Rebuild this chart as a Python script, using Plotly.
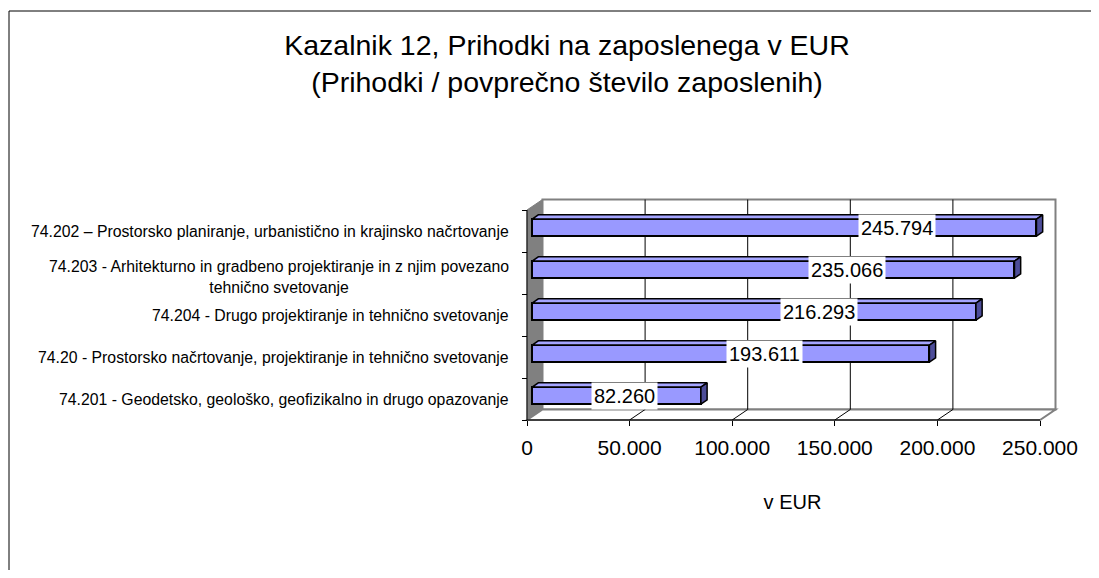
import plotly.graph_objects as go

# ---------------- data ----------------
categories = [
    "74.202 – Prostorsko planiranje, urbanistično in krajinsko načrtovanje",
    "74.203 - Arhitekturno in gradbeno projektiranje in z njim povezano<br>tehnično svetovanje",
    "74.204 - Drugo projektiranje in tehnično svetovanje",
    "74.20 - Prostorsko načrtovanje, projektiranje in tehnično svetovanje",
    "74.201 - Geodetsko, geološko, geofizikalno in drugo opazovanje",
]
values = [245794, 235066, 216293, 193611, 82260]
x_ticks = [0, 50000, 100000, 150000, 200000, 250000]
title_lines = ["Kazalnik 12, Prihodki na zaposlenega v EUR",
               "(Prihodki / povprečno število zaposlenih)"]
x_title = "v EUR"

# where Excel placed the value labels (x, in axis units)
label_x = [180300, 155900, 142300, 115500, 47300]

# ---------------- geometry / style (page pixel coords) ----------------
OFF = 8                      # body margin of the html page
W, H = 1099 - 2 * OFF, 578 - 2 * OFF
L_PX, R_PX, T_PX, B_PX = 523, 1062, 196, 422
X0_PX = 527                  # page pixel of x = 0 on the front axis
PX_PER_X = 102.6 / 50000
FRONT_BOTTOM_PX = 420        # page pixel of y = -0.5 (front)
PX_PER_CAT = 42

xmin = (L_PX - X0_PX) / PX_PER_X
xmax = (R_PX - X0_PX) / PX_PER_X
ymin = -0.5 - (B_PX - FRONT_BOTTOM_PX) / PX_PER_CAT
ymax = ymin + (B_PX - T_PX) / PX_PER_CAT

DX = 15.5 / PX_PER_X
DY = 10.5 / PX_PER_CAT
XEND = x_ticks[-1]
n = len(categories)
YTOP = n - 0.5

FONT = "Liberation Sans, Arial, sans-serif"
BAR_FRONT = "#9999FF"
BAR_TOP = "#A5A5FF"
BAR_SIDE = "#4D4D99"
WALL_GRAY = "#808080"

def paper_x(px):
    return (px - L_PX) / (R_PX - L_PX)

def paper_y(py):
    return (B_PX - py) / (B_PX - T_PX)

fig = go.Figure()

shapes = []
# back wall
shapes.append(dict(type="rect", xref="x", yref="y", x0=DX, x1=XEND + DX,
                   y0=-0.5 + DY, y1=YTOP + DY, fillcolor="white",
                   line=dict(color=WALL_GRAY, width=2), layer="below"))
# left wall
shapes.append(dict(type="path", xref="x", yref="y",
                   path=f"M 0,-0.5 L {DX},{-0.5 + DY} L {DX},{YTOP + DY} L 0,{YTOP} Z",
                   fillcolor=WALL_GRAY, line=dict(color=WALL_GRAY, width=1), layer="below"))
# floor
shapes.append(dict(type="path", xref="x", yref="y",
                   path=f"M 0,-0.5 L {XEND},-0.5 L {XEND + DX},{-0.5 + DY} L {DX},{-0.5 + DY} Z",
                   fillcolor="white", line=dict(color=WALL_GRAY, width=2), layer="below"))
# gridlines on back wall and floor
for t in x_ticks[1:-1]:
    shapes.append(dict(type="line", xref="x", yref="y", x0=t + DX, x1=t + DX,
                       y0=-0.5 + DY, y1=YTOP + DY, line=dict(color="black", width=1), layer="below"))
    shapes.append(dict(type="line", xref="x", yref="y", x0=t, x1=t + DX,
                       y0=-0.5, y1=-0.5 + DY, line=dict(color="black", width=1), layer="below"))
# front axis lines
shapes.append(dict(type="line", xref="x", yref="y", x0=0, x1=XEND, y0=-0.5, y1=-0.5,
                   line=dict(color="black", width=1)))
shapes.append(dict(type="line", xref="x", yref="y", x0=0, x1=0, y0=-0.5, y1=YTOP,
                   line=dict(color="black", width=1)))
# outer chart border (left and top edges; the others lie outside the picture)
shapes.append(dict(type="line", xref="paper", yref="paper",
                   x0=paper_x(9), x1=paper_x(9), y0=paper_y(11), y1=paper_y(600),
                   line=dict(color="black", width=1)))
shapes.append(dict(type="line", xref="paper", yref="paper",
                   x0=paper_x(9), x1=paper_x(1099), y0=paper_y(11), y1=paper_y(11),
                   line=dict(color="black", width=1)))

# ---------------- bars (3D) ----------------
fd, bd, bw = 0.33, 0.40, 0.405
ox, oy = fd * DX, fd * DY
bx, by = bd * DX, bd * DY
positions = [n - 1 - i for i in range(n)]
ycs = [p + oy for p in positions]

top_x, top_y, side_x, side_y = [], [], [], []
for v, yc in zip(values, ycs):
    lo, hi = yc - bw / 2, yc + bw / 2
    top_x += [ox, ox + v, ox + v + bx, ox + bx, ox, None]
    top_y += [hi, hi, hi + by, hi + by, hi, None]
    side_x += [ox + v, ox + v + bx, ox + v + bx, ox + v, ox + v, None]
    side_y += [lo, lo + by, hi + by, hi, lo, None]

fig.add_trace(go.Bar(x=values, y=ycs, base=ox, orientation="h", width=bw,
                     marker=dict(color=BAR_FRONT, line=dict(color="black", width=2)),
                     hoverinfo="skip", showlegend=False))
fig.add_trace(go.Scatter(x=top_x, y=top_y, mode="lines", fill="toself",
                         fillcolor=BAR_TOP, line=dict(color="black", width=1.5),
                         hoverinfo="skip", showlegend=False))
fig.add_trace(go.Scatter(x=side_x, y=side_y, mode="lines", fill="toself",
                         fillcolor=BAR_SIDE, line=dict(color="black", width=1.5),
                         hoverinfo="skip", showlegend=False))

annotations = []
for v, yc, lx in zip(values, ycs, label_x):
    annotations.append(dict(x=lx, y=yc, xref="x", yref="y", showarrow=False,
                            text=f"{v:,}".replace(",", "."), bgcolor="white", borderpad=2,
                            font=dict(family=FONT, size=20, color="black")))
for cat, p in zip(categories, positions):
    annotations.append(dict(x=paper_x(511), y=p, xref="paper", yref="y", showarrow=False,
                            xanchor="right", yanchor="middle", align="center", text=cat,
                            yshift=-4 if "<br>" in cat else 0,
                            font=dict(family=FONT, size=15.8, color="black")))

fig.update_layout(
    width=W, height=H,
    margin=dict(l=L_PX - OFF, r=W - (R_PX - OFF), t=T_PX - OFF, b=H - (B_PX - OFF),
                autoexpand=False),
    paper_bgcolor="white", plot_bgcolor="rgba(0,0,0,0)",
    separators=",.",
    title=dict(text="<br>".join(title_lines), x=(567 - OFF) / W, xanchor="center",
               y=1 - (55 - OFF) / H, yanchor="middle", yref="container",
               font=dict(family=FONT, size=28.5, color="black")),
    xaxis=dict(range=[xmin, xmax], anchor="free",
               position=paper_y(FRONT_BOTTOM_PX), tickvals=x_ticks,
               tickformat=",d", ticks="outside", ticklen=5, tickcolor="black",
               showgrid=False, zeroline=False, showline=False,
               tickfont=dict(family=FONT, size=21, color="black"),
               ticklabelstandoff=4,
               title=dict(text=x_title, standoff=36,
                          font=dict(family=FONT, size=20, color="black"))),
    yaxis=dict(range=[ymin, ymax], anchor="free", position=paper_x(X0_PX),
               tickvals=[i - 0.5 for i in range(n + 1)], ticks="outside", ticklen=5,
               tickcolor="black", showticklabels=False, showgrid=False,
               zeroline=False, showline=False),
    shapes=shapes, annotations=annotations, bargap=0,
)

fig.write_html("out.html")
